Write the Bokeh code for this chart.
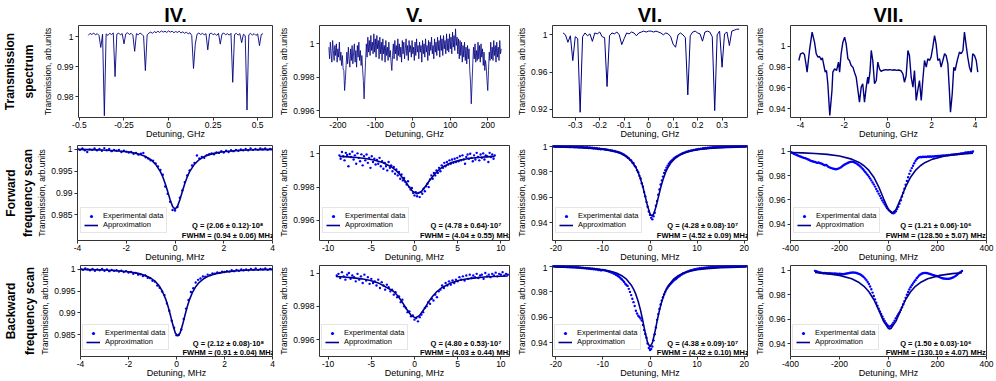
import numpy as np
from bokeh.plotting import figure
from bokeh.layouts import row, column
from bokeh.models import Range1d, FixedTicker, Label, Legend, LegendItem, Title
from bokeh.embed import file_html
from bokeh.resources import INLINE

FONT = "Liberation Sans"
INK = "#333333"
SPEC_COLOR = "#000080"
PT_COLOR = "#0000ff"
FIT_COLOR = "#00008b"

# ---------------- texts ----------------
col_titles = ["IV.", "V.", "VI.", "VII."]
row_labels = [["Transmission", "spectrum"], ["Forward", "frequency scan"], ["Backward", "frequency scan"]]
ylabel = "Transmission, arb.units"
xlabel_ghz = "Detuning, GHz"
xlabel_mhz = "Detuning, MHz"
legend_labels = ["Experimental data", "Approximation"]
q_fwd = ["Q = (2.06 ± 0.12)·10⁸", "Q = (4.78 ± 0.64)·10⁷", "Q = (4.28 ± 0.08)·10⁷", "Q = (1.21 ± 0.06)·10⁶"]
fwhm_fwd = ["FWHM = (0.94 ± 0.06) MHz", "FWHM = (4.04 ± 0.55) MHz", "FWHM = (4.52 ± 0.09) MHz", "FWHM = (128.50 ± 5.07) MHz"]
q_bwd = ["Q = (2.12 ± 0.08)·10⁸", "Q = (4.80 ± 0.53)·10⁷", "Q = (4.38 ± 0.09)·10⁷", "Q = (1.50 ± 0.03)·10⁶"]
fwhm_bwd = ["FWHM = (0.91 ± 0.04) MHz", "FWHM = (4.03 ± 0.44) MHz", "FWHM = (4.42 ± 0.10) MHz", "FWHM = (130.10 ± 4.07) MHz"]

# ---------------- ticks ----------------
spec_xticks = [[-0.5, -0.25, 0, 0.25, 0.5], [-200, -100, 0, 100, 200],
               [-0.3, -0.2, -0.1, 0, 0.1, 0.2, 0.3], [-4, -2, 0, 2, 4]]
spec_xtick_labels = [["-0.5", "-0.25", "0", "0.25", "0.5"], ["-200", "-100", "0", "100", "200"],
                     ["-0.3", "-0.2", "-0.1", "0", "0.1", "0.2", "0.3"], ["-4", "-2", "0", "2", "4"]]
spec_yticks = [[0.98, 0.99, 1.0], [0.996, 0.998, 1.0], [0.92, 0.96, 1.0], [0.94, 0.96, 0.98, 1.0]]
spec_ytick_labels = [["0.98", "0.99", "1"], ["0.996", "0.998", "1"], ["0.92", "0.96", "1"], ["0.94", "0.96", "0.98", "1"]]
scan_xticks = [[-4, -2, 0, 2, 4], [-10, -5, 0, 5, 10], [-20, -10, 0, 10, 20], [-400, -200, 0, 200, 400]]
scan_xtick_labels = [["-4", "-2", "0", "2", "4"], ["-10", "-5", "0", "5", "10"],
                     ["-20", "-10", "0", "10", "20"], ["-400", "-200", "0", "200", "400"]]
scan_yticks = [[0.985, 0.99, 0.995, 1.0], [0.996, 0.998, 1.0], [0.94, 0.96, 0.98, 1.0], [0.94, 0.96, 0.98, 1.0]]
scan_ytick_labels = [["0.985", "0.99", "0.995", "1"], ["0.996", "0.998", "1"],
                     ["0.94", "0.96", "0.98", "1"], ["0.94", "0.96", "0.98", "1"]]

# ---------------- axis ranges ----------------
spec_xr = [(-0.505, 0.583), (-249, 258), (-0.393, 0.404), (-4.46, 4.52)]
spec_yr = [(0.9731, 1.0037), (0.99558, 1.0011), (0.9114, 1.0100), (0.9317, 1.0198)]
fwd_xr = [(-4, 4), (-11, 11), (-20.7, 20.7), (-400, 400)]
fwd_yr = [(0.9791, 1.0009), (0.9948, 1.00049), (0.9263, 1.0005), (0.9267, 1.0048)]
bwd_xr = [(-4, 4), (-11, 11), (-20.7, 20.7), (-400, 400)]
bwd_yr = [(0.9800, 1.0009), (0.99499, 1.00045), (0.9294, 1.0004), (0.9294, 1.0040)]

# ---------------- row 1: transmission spectra ----------------
iv_spec_range = (-0.45, 0.53)
iv_spec_y = [1.0004, 1.0011, 1.0007, 1.0012, 1.0006, 1.0010, 1.0004, 0.9964, 1.0008, 0.9737,
             1.0009, 1.0004, 1.0011, 1.0007, 1.0012, 0.9867, 1.0008, 1.0012, 1.0006, 1.0010,
             0.9976, 1.0009, 1.0013, 1.0007, 1.0011, 1.0005, 0.9951, 1.0010, 1.0006, 1.0012,
             1.0008, 1.0002, 0.9887, 1.0006, 1.0012, 1.0015, 1.0011, 1.0017, 1.0013, 1.0018,
             1.0014, 1.0019, 1.0015, 1.0018, 1.0014, 1.0019, 1.0015, 1.0018, 1.0013, 1.0017,
             1.0014, 1.0018, 1.0012, 1.0016, 1.0011, 1.0015, 1.0009, 1.0013, 1.0004, 0.9894,
             0.9975, 1.0008, 1.0012, 1.0007, 1.0011, 1.0006, 1.0010, 0.9956, 1.0009, 1.0012,
             1.0006, 1.0010, 1.0004, 1.0011, 0.9975, 1.0009, 1.0012, 1.0006, 1.0010, 1.0005,
             1.0011, 0.9848, 1.0007, 1.0011, 1.0005, 1.0010, 0.9980, 1.0008, 1.0003, 0.9756,
             1.0006, 1.0011, 1.0005, 1.0010, 1.0004, 1.0009, 0.9970, 1.0007, 1.0010]

v_spec_range = (-224, 236)
v_spec_y = [0.9998, 0.9991, 1.0001, 0.9994, 0.9989, 1.0002, 0.9996, 0.9990, 0.9999, 0.9993,
            1.0000, 0.9989, 0.9997, 0.9992, 1.0001, 0.9990, 0.9995, 0.9987, 0.9993, 0.9985,
            0.9984, 0.9972, 0.9978, 0.9987, 0.9995, 0.9988, 0.9998, 0.9991, 0.9986, 0.9997,
            0.9990, 0.9999, 0.9988, 0.9995, 1.0000, 0.9989, 0.9996, 0.9986, 0.9999, 0.9992,
            1.0001, 0.9990, 0.9996, 0.9987, 0.9993, 0.9985, 0.9978, 0.9967, 0.9979, 0.9990,
            1.0000, 0.9992, 1.0004, 0.9995, 1.0002, 0.9993, 1.0005, 0.9996, 1.0001, 0.9994,
            1.0006, 0.9995, 1.0003, 0.9992, 1.0005, 0.9997, 1.0002, 0.9991, 1.0004, 0.9994,
            1.0001, 0.9990, 1.0003, 0.9994, 0.9999, 0.9989, 1.0002, 0.9993, 0.9998, 0.9990,
            1.0001, 0.9992, 0.9996, 0.9989, 0.9984, 0.9993, 1.0000, 0.9991, 1.0002, 0.9994,
            0.9999, 0.9990, 1.0003, 0.9993, 1.0000, 0.9992, 0.9998, 0.9989, 1.0002, 0.9994,
            1.0001, 0.9991, 0.9997, 1.0003, 0.9993, 0.9999, 0.9990, 1.0002, 0.9995, 0.9999,
            0.9992, 1.0002, 0.9994, 0.9998, 0.9990, 1.0001, 0.9993, 1.0003, 0.9995, 0.9999,
            0.9991, 1.0001, 0.9995, 0.9999, 0.9989, 1.0002, 0.9994, 1.0000, 0.9992, 1.0003,
            0.9995, 0.9999, 0.9990, 1.0002, 0.9993, 1.0001, 0.9996, 1.0004, 0.9994, 0.9999,
            0.9991, 1.0003, 0.9995, 1.0001, 0.9993, 1.0004, 0.9996, 1.0002, 0.9992, 1.0005,
            0.9996, 1.0003, 0.9993, 1.0005, 0.9997, 1.0002, 0.9994, 1.0006, 0.9996, 1.0003,
            0.9995, 1.0006, 0.9997, 1.0004, 0.9994, 1.0007, 0.9998, 1.0005, 0.9996, 1.0009,
            0.9999, 1.0004, 0.9994, 1.0003, 0.9991, 1.0002, 0.9993, 1.0001, 0.9989, 0.9999,
            0.9992, 1.0001, 0.9990, 0.9998, 0.9988, 0.9999, 0.9991, 0.9997, 0.9984, 0.9977,
            0.9964, 0.9976, 0.9988, 0.9998, 0.9991, 1.0000, 0.9989, 0.9996, 0.9990, 1.0001,
            0.9991, 0.9999, 0.9989, 1.0000, 0.9992, 0.9997, 0.9987, 0.9995, 0.9984, 0.9990,
            0.9986, 0.9978, 0.9972, 0.9984, 0.9995, 0.9990, 1.0001, 0.9991, 0.9998, 0.9990,
            1.0002, 0.9993, 0.9999, 0.9989, 1.0001, 0.9992, 0.9998, 0.9990, 1.0002, 0.9994,
            0.9997]

vi_spec_range = (-0.35, 0.37)
vi_spec_y = [1.002, 1.000, 0.992, 0.999, 0.9724, 0.998, 0.996, 0.917, 0.998, 1.002,
             0.999, 1.001, 0.993, 1.002, 1.001, 1.003, 0.998, 0.997, 0.9446, 0.999,
             1.002, 1.001, 1.003, 1.000, 0.9895, 0.996, 1.002, 1.001, 1.003, 1.002,
             0.999, 1.002, 1.003, 1.004, 1.003, 1.004, 1.004, 1.003, 1.004, 1.003,
             1.002, 1.000, 1.002, 1.001, 0.998, 0.990, 0.9867, 1.000, 1.002, 1.000,
             0.997, 0.9356, 0.999, 1.003, 1.004, 1.002, 1.001, 0.9932, 1.003, 1.004,
             1.003, 0.998, 0.9188, 1.000, 1.004, 0.9653, 1.001, 1.003, 0.9885, 1.004,
             1.005, 1.006, 1.006]

vii_spec_x = [-4.08, -4.00, -3.90, -3.82, -3.74, -3.70, -3.59, -3.47, -3.36, -3.28,
              -3.20, -3.13, -3.05, -3.00, -2.93, -2.87, -2.81, -2.75, -2.66, -2.56,
              -2.52, -2.44, -2.35, -2.26, -2.21, -2.14, -2.06, -1.98, -1.91, -1.83,
              -1.76, -1.68, -1.60, -1.53, -1.45, -1.37, -1.30, -1.22, -1.15, -1.07,
              -0.99, -0.92, -0.89, -0.82, -0.76, -0.69, -0.61, -0.53, -0.46, -0.38,
              -0.31, -0.20, -0.10, 0.00, 0.10, 0.20, 0.30, 0.40, 0.50, 0.60,
              0.69, 0.76, 0.84, 0.92, 0.99, 1.07, 1.15, 1.22, 1.30, 1.37,
              1.45, 1.53, 1.60, 1.68, 1.76, 1.83, 1.91, 1.98, 2.06, 2.14,
              2.21, 2.29, 2.37, 2.44, 2.52, 2.60, 2.67, 2.75, 2.82, 2.87,
              2.95, 3.02, 3.08, 3.18, 3.28, 3.36, 3.44, 3.51, 3.59, 3.66,
              3.74, 3.82, 3.89, 3.97, 4.05, 4.12]
vii_spec_y = [0.9863, 0.9927, 0.9936, 0.9920, 0.9815, 0.9751, 0.9959, 1.0134, 1.0038, 0.9927,
              0.9895, 0.9901, 0.9869, 0.9888, 0.9815, 0.9751, 0.9767, 0.9640, 0.9336, 0.9576,
              0.9751, 0.9783, 0.9767, 0.9847, 0.9751, 0.9927, 1.0038, 1.0086, 1.0022, 0.9879,
              0.9863, 0.9815, 0.9799, 0.9751, 0.9703, 0.9576, 0.9464, 0.9608, 0.9640, 0.9464,
              0.9608, 0.9703, 0.9640, 0.9751, 0.9959, 0.9863, 0.9640, 0.9671, 0.9847, 0.9780,
              0.9760, 0.9770, 0.9775, 0.9772, 0.9776, 0.9770, 0.9774, 0.9768, 0.9772, 0.9765,
              0.9735, 0.9655, 0.9719, 0.9959, 0.9911, 0.9703, 0.9608, 0.9767, 0.9480, 0.9576,
              0.9671, 0.9480, 0.9671, 0.9863, 0.9799, 0.9879, 0.9863, 0.9895, 0.9990, 1.0102,
              1.0022, 0.9863, 0.9879, 0.9799, 0.9863, 0.9927, 0.9911, 0.9831, 0.9576, 0.9368,
              0.9544, 0.9799, 0.9767, 0.9863, 0.9943, 0.9927, 0.9959, 1.0134, 1.0006, 0.9895,
              0.9799, 0.9751, 0.9927, 0.9911, 0.9863, 0.9751]

# ---------------- row 2/3: IV ----------------
iv_pts_range = (-4.0, 4.0)
iv_fwd_pts = [1.0001, 0.9999, 1.0002, 0.9998, 0.9994, 1.0000, 0.9999, 1.0002, 0.9998, 1.0001,
              0.9997, 1.0003, 0.9998, 1.0001, 0.9996, 0.9999, 0.9997, 0.9999, 0.9994, 0.9997,
              0.9995, 0.9993, 0.9994, 0.9990, 0.9992, 0.9988, 0.9990, 0.9992, 0.9982, 0.9979,
              0.9975, 0.9974, 0.9968, 0.9961, 0.9953, 0.9942, 0.9915, 0.9898, 0.9880, 0.9861,
              0.9860, 0.9868, 0.9889, 0.9906, 0.9925, 0.9940, 0.9952, 0.9963, 0.9969, 0.9986,
              0.9979, 0.9983, 0.9981, 0.9987, 0.9989, 0.9991, 0.9989, 0.9993, 0.9992, 0.9996,
              0.9993, 0.9997, 0.9994, 0.9998, 0.9996, 0.9999, 0.9997, 1.0000, 0.9998, 1.0001,
              0.9998, 1.0002, 0.9999, 1.0001, 0.9999, 1.0002, 1.0000, 1.0002, 0.9999, 1.0001,
              1.0000]
iv_fwd_fit_x = [-4.0, -3.5, -3.0, -2.6, -2.2, -1.9, -1.6, -1.4, -1.2, -1.0, -0.8, -0.6, -0.5, -0.4, -0.3,
                -0.2, -0.1, 0.0, 0.1, 0.2, 0.3, 0.4, 0.5, 0.6, 0.8, 1.0, 1.2, 1.4, 1.6, 1.9, 2.2, 2.6,
                3.0, 3.5, 4.0]
iv_fwd_fit_y = [1.00001, 0.99995, 0.99987, 0.99976, 0.99959, 0.9994, 0.99909, 0.99879, 0.99835, 0.99769,
                0.99663, 0.99491, 0.99368, 0.99214, 0.99032, 0.98843, 0.9869, 0.9863, 0.9869, 0.98843,
                0.99032, 0.99214, 0.99368, 0.99491, 0.99663, 0.99769, 0.99835, 0.99879, 0.99909, 0.9994,
                0.99959, 0.99976, 0.99987, 0.99995, 1.00001]
iv_bwd_pts = [1.0001, 0.9999, 1.0002, 1.0000, 0.9998, 1.0001, 0.9997, 1.0000, 0.9998, 1.0001,
              0.9997, 1.0000, 0.9996, 0.9999, 0.9997, 0.9998, 0.9995, 0.9997, 0.9994, 0.9996,
              0.9993, 0.9994, 0.9990, 0.9992, 0.9988, 0.9989, 0.9985, 0.9986, 0.9981, 0.9980,
              0.9974, 0.9972, 0.9963, 0.9958, 0.9949, 0.9941, 0.9922, 0.9905, 0.9882, 0.9866,
              0.9849, 0.9850, 0.9862, 0.9886, 0.9910, 0.9930, 0.9948, 0.9957, 0.9970, 0.9976,
              0.9979, 0.9984, 0.9983, 0.9988, 0.9987, 0.9991, 0.9990, 0.9993, 0.9992, 0.9995,
              0.9994, 0.9996, 0.9995, 0.9998, 0.9996, 0.9999, 0.9997, 1.0000, 0.9998, 1.0000,
              0.9998, 1.0001, 0.9999, 1.0002, 0.9999, 1.0001, 1.0000, 1.0002, 0.9999, 1.0001,
              1.0000]
iv_bwd_fit_x = [-4.0, -3.0, -2.5, -2.0, -1.6, -1.3, -1.1, -0.9, -0.75, -0.6, -0.45, -0.35, -0.25, -0.15,
                -0.05, 0.05, 0.15, 0.25, 0.35, 0.45, 0.55, 0.65, 0.8, 0.95, 1.15, 1.35, 1.65, 2.05, 2.55,
                3.05, 4.0]
iv_bwd_fit_y = [1.0, 0.99985, 0.99971, 0.99946, 0.9991, 0.99862, 0.9981, 0.99731, 0.99641, 0.9951,
                0.99318, 0.99146, 0.9894, 0.98721, 0.98541, 0.9847, 0.98541, 0.98721, 0.9894, 0.99146,
                0.99318, 0.99454, 0.99603, 0.99705, 0.99793, 0.99851, 0.99904, 0.99944, 0.9997, 0.99985,
                1.0]

# ---------------- row 2/3: V ----------------
v_fwd_range = (-8.7, 9.3)
v_fwd_pts = [0.99990, 0.99970, 1.00010, 0.99985, 0.99960, 1.00005, 0.99992, 0.99925, 0.99998, 0.99980,
             1.00012, 0.99965, 0.99990, 0.99940, 1.00002, 0.99975, 0.99955, 0.99996, 0.99930, 0.99985,
             0.99960, 0.99995, 0.99945, 0.99975, 0.99915, 0.99985, 0.99950, 0.99970, 0.99935, 0.99962,
             0.99940, 0.99975, 0.99925, 0.99955, 0.99910, 0.99945, 0.99925, 0.99900, 0.99950, 0.99915,
             0.99930, 0.99895, 0.99920, 0.99880, 0.99905, 0.99870, 0.99890, 0.99850, 0.99875, 0.99840,
             0.99855, 0.99830, 0.99815, 0.99835, 0.99800, 0.99785, 0.99795, 0.99765, 0.99750, 0.99770,
             0.99745, 0.99765, 0.99740, 0.99770, 0.99760, 0.99790, 0.99775, 0.99805, 0.99820, 0.99800,
             0.99845, 0.99870, 0.99850, 0.99885, 0.99870, 0.99900, 0.99885, 0.99915, 0.99895, 0.99930,
             0.99915, 0.99945, 0.99925, 0.99950, 0.99935, 0.99960, 0.99940, 0.99965, 0.99945, 0.99970,
             0.99950, 0.99975, 0.99955, 0.99985, 0.99960, 0.99990, 0.99965, 0.99940, 0.99980, 0.99995,
             0.99970, 1.00000, 0.99975, 0.99955, 0.99990, 0.99965, 1.00005, 0.99980, 0.99960, 0.99995,
             0.99975, 1.00002, 0.99965, 0.99990, 0.99985, 0.99950, 1.00005, 0.99980, 0.99995, 0.99970,
             0.99990]
v_fwd_fit_x = [-8.7, -7.7, -6.7, -5.7, -4.7, -3.7, -2.7, -2.2, -1.7, -1.2, -0.7, -0.2, 0.3, 0.8, 1.3,
               1.8, 2.3, 2.8, 3.3, 4.3, 5.3, 6.3, 7.3, 8.3, 9.3]
v_fwd_fit_y = [0.99984, 0.99981, 0.99977, 0.99971, 0.99962, 0.99947, 0.99922, 0.99902, 0.99876, 0.99844,
               0.99806, 0.99774, 0.9976, 0.99774, 0.99806, 0.99844, 0.99876, 0.99902, 0.99922, 0.99947,
               0.99962, 0.99971, 0.99977, 0.99981, 0.99984]
v_bwd_range = (-9.0, 10.8)
v_bwd_pts = [0.99985, 0.99995, 0.99970, 1.00005, 0.99980, 0.99960, 0.99990, 1.00000, 0.99965, 0.99985,
             0.99975, 0.99950, 0.99995, 0.99960, 0.99980, 0.99940, 0.99990, 0.99955, 0.99975, 0.99935,
             0.99965, 0.99940, 0.99950, 0.99925, 0.99960, 0.99910, 0.99945, 0.99925, 0.99900, 0.99930,
             0.99915, 0.99890, 0.99900, 0.99870, 0.99885, 0.99855, 0.99860, 0.99825, 0.99840, 0.99800,
             0.99790, 0.99765, 0.99770, 0.99740, 0.99745, 0.99720, 0.99730, 0.99710, 0.99735, 0.99750,
             0.99765, 0.99790, 0.99800, 0.99825, 0.99815, 0.99845, 0.99835, 0.99870, 0.99855, 0.99890,
             0.99900, 0.99925, 0.99910, 0.99940, 0.99925, 0.99950, 0.99930, 0.99955, 0.99940, 0.99960,
             0.99950, 0.99975, 0.99960, 0.99980, 0.99955, 0.99985, 0.99965, 0.99990, 0.99970, 0.99985,
             0.99975, 0.99995, 0.99970, 0.99985, 0.99990, 0.99965, 1.00000, 0.99980, 0.99990, 0.99975,
             0.99995, 0.99985, 1.00002, 0.99980, 0.99995, 0.99990, 1.00005, 0.99985, 0.99995, 0.99990]
v_bwd_fit_x = [-9.1, -8.1, -7.1, -6.1, -5.1, -4.1, -3.1, -2.4, -1.9, -1.4, -0.9, -0.4, 0.1, 0.6, 1.1,
               1.6, 2.1, 2.6, 3.1, 4.1, 5.1, 6.1, 7.1, 8.1, 9.1, 10.8]
v_bwd_fit_y = [0.99979, 0.99976, 0.99971, 0.99965, 0.99955, 0.99938, 0.9991, 0.99889, 0.9986, 0.99824,
               0.99782, 0.99746, 0.99731, 0.99746, 0.99782, 0.99824, 0.9986, 0.99889, 0.9991, 0.99938,
               0.99955, 0.99965, 0.99971, 0.99976, 0.99979, 0.99982]

# ---------------- row 2/3: VI ----------------
vi_pts_range = (-20.5, 20.5)
vi_fwd_pts = [0.9998, 1.0001, 0.9996, 1.0000, 0.9997, 1.0002, 0.9995, 0.9999, 0.9996, 1.0001,
              0.9994, 0.9998, 0.9995, 1.0000, 0.9993, 0.9997, 0.9994, 0.9999, 0.9992, 0.9996,
              0.9993, 0.9997, 0.9990, 0.9995, 0.9991, 0.9994, 0.9988, 0.9992, 0.9989, 0.9991,
              0.9986, 0.9989, 0.9985, 0.9988, 0.9982, 0.9985, 0.9981, 0.9983, 0.9978, 0.9981,
              0.9976, 0.9978,
              0.9977, 0.9975, 0.9976, 0.9972, 0.9973, 0.9969, 0.9969, 0.9965, 0.9966, 0.9961,
              0.9962, 0.9957, 0.9957, 0.9952, 0.9950, 0.9946, 0.9943, 0.9937, 0.9933, 0.9926,
              0.9920,
              0.9911, 0.9906, 0.9893, 0.9888, 0.9872, 0.9866, 0.9846, 0.9836, 0.9812, 0.9797,
              0.9768, 0.9747, 0.9710, 0.9683, 0.9641, 0.9608, 0.9563, 0.9527, 0.9490, 0.9463,
              0.9440, 0.9428, 0.9452, 0.9480, 0.9535, 0.9572, 0.9620, 0.9662, 0.9700, 0.9733,
              0.9762, 0.9790, 0.9812, 0.9832, 0.9848, 0.9863, 0.9874, 0.9885, 0.9893, 0.9902,
              0.9909, 0.9915,
              0.9921, 0.9926, 0.9932, 0.9936, 0.9941, 0.9944, 0.9949, 0.9951, 0.9956, 0.9957,
              0.9962, 0.9962, 0.9967, 0.9967, 0.9971, 0.9971, 0.9975, 0.9974, 0.9978, 0.9977,
              0.9981, 0.9979, 0.9984, 0.9982, 0.9986, 0.9984, 0.9988, 0.9986, 0.9990, 0.9987,
              0.9991, 0.9989, 0.9993, 0.9990, 0.9994, 0.9991, 0.9995, 0.9992, 0.9996, 0.9993,
              0.9997, 0.9994, 0.9998, 0.9995, 0.9998, 0.9996, 0.9999, 0.9996, 1.0000, 0.9997,
              1.0001, 0.9997, 1.0000, 0.9998, 1.0001, 0.9998, 1.0002, 0.9999, 1.0001, 0.9999]
vi_fwd_fit_x = [-20.5, -16, -12, -10, -8, -7, -6, -5, -4, -3, -2.5, -2, -1.5, -1, -0.5, 0, 0.4, 0.8,
                1.3, 1.8, 2.3, 2.8, 3.3, 3.8, 4.4, 5.4, 6.4, 7.4, 8.4, 10.4, 12.4, 16.4, 20.5]
vi_fwd_fit_y = [0.99937, 0.99898, 0.99825, 0.99754, 0.99632, 0.99535, 0.99396, 0.99188, 0.98862, 0.9833,
                0.97941, 0.97439, 0.96807, 0.96061, 0.95296, 0.94715, 0.9455, 0.94715, 0.95296, 0.96061,
                0.96807, 0.97439, 0.97941, 0.9833, 0.98681, 0.99075, 0.99323, 0.99486, 0.99597, 0.99735,
                0.99813, 0.99893, 0.99932]
vi_bwd_pts = [0.9999, 1.0001, 0.9997, 1.0000, 0.9996, 0.9999, 0.9995, 0.9998, 0.9994, 0.9997,
              0.9993, 0.9996, 0.9992, 0.9995, 0.9991, 0.9994, 0.9990, 0.9993, 0.9989, 0.9992,
              0.9988, 0.9990, 0.9986, 0.9989, 0.9985, 0.9987, 0.9983, 0.9985, 0.9981, 0.9983,
              0.9979, 0.9981, 0.9977, 0.9979, 0.9975, 0.9977, 0.9972, 0.9974, 0.9969, 0.9971,
              0.9966, 0.9967,
              0.9970, 0.9967, 0.9966, 0.9962, 0.9961, 0.9957, 0.9955, 0.9950, 0.9948, 0.9942,
              0.9939, 0.9932, 0.9928, 0.9920, 0.9914, 0.9905, 0.9897, 0.9886, 0.9876, 0.9862,
              0.9852,
              0.9845, 0.9822, 0.9798, 0.9773, 0.9745, 0.9718, 0.9688, 0.9651, 0.9630, 0.9612,
              0.9602, 0.9590, 0.9574, 0.9540, 0.9500, 0.9470, 0.9440, 0.9395, 0.9360, 0.9345,
              0.9352, 0.9372, 0.9420, 0.9468, 0.9520, 0.9580, 0.9625, 0.9665, 0.9700, 0.9730,
              0.9757, 0.9780, 0.9800, 0.9818, 0.9832, 0.9845, 0.9856, 0.9866, 0.9876, 0.9885,
              0.9892, 0.9899,
              0.9906, 0.9915, 0.9921, 0.9929, 0.9934, 0.9941, 0.9944, 0.9950, 0.9953, 0.9958,
              0.9960, 0.9965, 0.9966, 0.9970, 0.9971, 0.9975, 0.9975, 0.9979, 0.9978, 0.9982,
              0.9981, 0.9985, 0.9983, 0.9987, 0.9985, 0.9989, 0.9987, 0.9991, 0.9989, 0.9992,
              0.9990, 0.9994, 0.9991, 0.9995, 0.9992, 0.9996, 0.9993, 0.9997, 0.9994, 0.9997,
              0.9995, 0.9998, 0.9995, 0.9999, 0.9996, 0.9999, 0.9996, 1.0000, 0.9997, 1.0000,
              0.9997, 1.0001, 0.9998, 1.0001, 0.9998, 1.0001, 0.9998, 1.0002, 0.9999, 1.0001]
vi_bwd_fit_x = [-20.5, -15, -12, -10, -8, -7, -6, -5, -4, -3.5, -3, -2.5, -2, -1.5, -1, -0.5, 0,
                0.5, 1, 1.5, 2, 2.5, 3, 3.5, 4, 5, 6, 7, 8, 10, 12, 15, 20.5]
vi_bwd_fit_y = [0.99928, 0.99866, 0.99793, 0.99707, 0.99553, 0.99429, 0.99247, 0.98971, 0.98527, 0.98204,
                0.97784, 0.97237, 0.96537, 0.95687, 0.9477, 0.94007, 0.937, 0.94007, 0.9477, 0.95687,
                0.96537, 0.97237, 0.97784, 0.98204, 0.98527, 0.98971, 0.99247, 0.99429, 0.99553, 0.99707,
                0.99793, 0.99866, 0.99928]

# ---------------- row 2/3: VII ----------------
vii_fwd_range = (-400, 345)
vii_fwd_pts = [0.9996, 0.9990, 0.9985, 0.9979, 0.9975, 0.9970, 0.9966, 0.9961, 0.9958, 0.9954,
               0.9950, 0.9946, 0.9944, 0.9940, 0.9935, 0.9931, 0.9925, 0.9920, 0.9918, 0.9915,
               0.9913, 0.9908, 0.9905, 0.9908, 0.9903, 0.9900, 0.9896, 0.9890, 0.9886, 0.9888,
               0.9881, 0.9872, 0.9868, 0.9864, 0.9860, 0.9857, 0.9855, 0.9853, 0.9855, 0.9858,
               0.9862, 0.9868, 0.9875, 0.9883, 0.9890, 0.9896, 0.9901, 0.9906, 0.9910, 0.9913,
               0.9915, 0.9914, 0.9910, 0.9905, 0.9899, 0.9892, 0.9885, 0.9876, 0.9866, 0.9855,
               0.9843, 0.9830, 0.9818, 0.9805, 0.9792, 0.9777, 0.9761, 0.9744, 0.9728, 0.9710,
               0.9690, 0.9672, 0.9652, 0.9634, 0.9614, 0.9596, 0.9579, 0.9563, 0.9546, 0.9533,
               0.9521, 0.9510, 0.9501, 0.9493, 0.9490, 0.9496, 0.9508, 0.9525, 0.9545, 0.9570,
               0.9598, 0.9628, 0.9660, 0.9692, 0.9725, 0.9757, 0.9787, 0.9815, 0.9840, 0.9862,
               0.9882, 0.9902, 0.9920, 0.9935, 0.9946, 0.9951, 0.9953, 0.9952, 0.9955, 0.9953,
               0.9956, 0.9954, 0.9957, 0.9955, 0.9958, 0.9956, 0.9959, 0.9957, 0.9960, 0.9961,
               0.9962, 0.9963, 0.9962, 0.9965, 0.9964, 0.9966, 0.9965, 0.9968, 0.9967, 0.9970,
               0.9969, 0.9972, 0.9972, 0.9974, 0.9975, 0.9977, 0.9976, 0.9979, 0.9978, 0.9982,
               0.9983, 0.9985, 0.9987, 0.9990, 0.9988, 0.9993, 0.9991, 0.9996, 0.9994, 0.9999]
vii_fwd_fit_x = [-400, -350, -300, -250, -200, -150, -120, -100, -80, -60, -40, -20, 0, 15, 30, 50, 70,
                 90, 110, 130, 150, 180, 230, 280, 345]
vii_fwd_fit_y = [0.9991, 0.99877, 0.99826, 0.99747, 0.99615, 0.99359, 0.99088, 0.98817, 0.98429, 0.97871,
                 0.97087, 0.96097, 0.95194, 0.9493, 0.95194, 0.96097, 0.97087, 0.97871, 0.98429, 0.98817,
                 0.99088, 0.99359, 0.99612, 0.99747, 0.99844]
vii_bwd_range = (-300, 300)
vii_bwd_pts = [0.9996, 0.9993, 0.9990, 0.9986, 0.9983, 0.9980, 0.9979, 0.9977, 0.9978, 0.9976,
               0.9977, 0.9975, 0.9976, 0.9974, 0.9975, 0.9973, 0.9974, 0.9972, 0.9973, 0.9971,
               0.9972, 0.9970, 0.9971, 0.9969, 0.9970, 0.9972, 0.9974, 0.9977, 0.9979, 0.9981,
               0.9982, 0.9983, 0.9982, 0.9980, 0.9978, 0.9975, 0.9971, 0.9966, 0.9960, 0.9952,
               0.9943, 0.9932, 0.9920, 0.9905, 0.9888, 0.9868, 0.9845, 0.9818, 0.9790, 0.9762,
               0.9735, 0.9710, 0.9686, 0.9663, 0.9642, 0.9622, 0.9602, 0.9584, 0.9566, 0.9552,
               0.9542, 0.9538, 0.9544, 0.9556, 0.9572, 0.9588, 0.9607, 0.9625, 0.9641, 0.9656,
               0.9675, 0.9697, 0.9722, 0.9748, 0.9775, 0.9800, 0.9823, 0.9843, 0.9862, 0.9878,
               0.9893, 0.9907, 0.9920, 0.9935, 0.9947, 0.9958, 0.9966, 0.9972, 0.9976, 0.9979,
               0.9979, 0.9978, 0.9976, 0.9973, 0.9970, 0.9967, 0.9963, 0.9960, 0.9957, 0.9954,
               0.9951, 0.9947, 0.9943, 0.9939, 0.9936, 0.9933, 0.9932, 0.9931, 0.9930, 0.9931,
               0.9932, 0.9935, 0.9939, 0.9944, 0.9949, 0.9956, 0.9964, 0.9972, 0.9980, 0.9988,
               0.9995]
vii_bwd_fit_x = [-300, -250, -200, -150, -120, -100, -80, -60, -40, -20, 0, 5, 10, 30, 50, 70, 90, 110,
                 130, 160, 210, 260, 300]
vii_bwd_fit_y = [0.9982, 0.99735, 0.99589, 0.99308, 0.99002, 0.98692, 0.98248, 0.97615, 0.96764, 0.95823,
                 0.95228, 0.952, 0.95228, 0.95823, 0.96764, 0.97615, 0.98248, 0.98692, 0.99002, 0.99308,
                 0.99589, 0.99735, 0.99806]

# ---------------- layout (pixels; the page has no margin) ----------------
COL_W = [276, 237, 238, 243]
COL_BL = [76, 37, 38, 38]
COL_BR = [4, 4, 4, 8]
FRAME_W = [w - l - r for w, l, r in zip(COL_W, COL_BL, COL_BR)]
ROW_H = [143, 121, 116]
ROW_BT = [25, 2, 1]
ROW_BB = [26, 22, 22]
FRAME_H = [h - t - b for h, t, b in zip(ROW_H, ROW_BT, ROW_BB)]
ROWLAB_STANDOFF = [(7, 0), (0, 2), (2, 3)]
ANN_DX = [45, 45, 45, 51]
ANN_DY = [None, (15.6, 5.6), (13.5, 4.5)]
LEG_LOC = [None, (3, 7), (2, 6)]


def make_panel(r, c, xr, yr, xt, xtl, yt, ytl, xlab):
    p = figure(width=COL_W[c], height=ROW_H[r], x_range=Range1d(*xr), y_range=Range1d(*yr),
               output_backend="svg", toolbar_location=None,
               min_border_left=COL_BL[c], min_border_right=COL_BR[c],
               min_border_top=ROW_BT[r], min_border_bottom=ROW_BB[r])
    p.grid.visible = False
    p.outline_line_color = INK
    p.outline_line_width = 1
    p.background_fill_color = "white"
    p.border_fill_color = "white"
    for ax in (p.xaxis[0], p.yaxis[0]):
        ax.axis_line_color = None
        ax.major_tick_line_color = INK
        ax.major_tick_out = 3
        ax.major_tick_in = 0
        ax.minor_tick_line_color = None
        ax.major_label_text_font = FONT
        ax.major_label_text_font_size = "8.5px"
        ax.major_label_text_color = "black"
        ax.axis_label_text_font = FONT
        ax.axis_label_text_font_style = "normal"
        ax.axis_label_text_color = "black"
    p.xaxis.ticker = FixedTicker(ticks=xt)
    p.xaxis.major_label_overrides = {t: s for t, s in zip(xt, xtl)}
    p.yaxis.ticker = FixedTicker(ticks=yt)
    p.yaxis.major_label_overrides = {t: s for t, s in zip(yt, ytl)}
    p.xaxis.axis_label = xlab
    p.xaxis.axis_label_text_font_size = "9px"
    p.xaxis.axis_label_standoff = -2
    p.xaxis.major_label_standoff = 1
    p.yaxis.axis_label = ylabel
    p.yaxis.axis_label_text_font_size = "8.5px"
    p.yaxis.axis_label_standoff = 1
    p.yaxis.major_label_standoff = 2
    if c == 0:
        inner, outer = row_labels[r][1], row_labels[r][0]
        for txt, so in ((inner, ROWLAB_STANDOFF[r][0]), (outer, ROWLAB_STANDOFF[r][1])):
            p.add_layout(Title(text=txt, align="center", text_font=FONT, text_font_style="bold",
                               text_font_size="12px", text_color="black", standoff=so, offset=0), "left")
    return p


def add_scan(p, r, c, xr, yr, px, py, fx, fy, qtxt, ftxt):
    r_pts = p.scatter(px, py, size=2.4, marker="circle", fill_color=PT_COLOR, line_color=None)
    r_fit = p.line(fx, fy, line_color=FIT_COLOR, line_width=1.6)
    leg = Legend(items=[LegendItem(label=legend_labels[0], renderers=[r_pts]),
                        LegendItem(label=legend_labels[1], renderers=[r_fit])],
                 location=LEG_LOC[r], margin=0, padding=3, spacing=0,
                 label_text_font=FONT, label_text_font_size="7.5px", label_text_color="black",
                 label_height=8, glyph_height=8, glyph_width=14, label_standoff=5,
                 border_line_color="#cccccc", border_line_width=1,
                 background_fill_color="white", background_fill_alpha=0.85)
    p.add_layout(leg)
    xa = xr[0] + (xr[1] - xr[0]) * (1 - ANN_DX[c] / FRAME_W[c])
    for txt, dy in zip((qtxt, ftxt), ANN_DY[r]):
        ya = yr[0] + (yr[1] - yr[0]) * dy / FRAME_H[r]
        p.add_layout(Label(x=xa, y=ya, text=txt, text_align="center", text_baseline="alphabetic",
                           text_font=FONT, text_font_style="bold", text_font_size="7.5px",
                           text_color="black"))


# row 1
spec_x = [np.linspace(iv_spec_range[0], iv_spec_range[1], len(iv_spec_y)),
          np.linspace(v_spec_range[0], v_spec_range[1], len(v_spec_y)),
          np.linspace(vi_spec_range[0], vi_spec_range[1], len(vi_spec_y)),
          np.array(vii_spec_x)]
spec_y = [iv_spec_y, v_spec_y, vi_spec_y, vii_spec_y]
spec_w = [0.9, 0.8, 1.0, 1.4]
row1 = []
for c in range(4):
    p = make_panel(0, c, spec_xr[c], spec_yr[c], spec_xticks[c], spec_xtick_labels[c],
                   spec_yticks[c], spec_ytick_labels[c], xlabel_ghz)
    p.line(spec_x[c], spec_y[c], line_color=SPEC_COLOR, line_width=spec_w[c])
    xmin, xmax = spec_xr[c]
    zero_off = (0 - xmin) / (xmax - xmin) * FRAME_W[c] - FRAME_W[c] / 2
    p.title = Title(text=col_titles[c], align="center", offset=zero_off, standoff=0,
                    text_font=FONT, text_font_style="bold", text_font_size="20px", text_color="black")
    row1.append(p)

# rows 2 and 3
fwd_pts_x = [np.linspace(iv_pts_range[0], iv_pts_range[1], len(iv_fwd_pts)),
             np.linspace(v_fwd_range[0], v_fwd_range[1], len(v_fwd_pts)),
             np.linspace(vi_pts_range[0], vi_pts_range[1], len(vi_fwd_pts)),
             np.linspace(vii_fwd_range[0], vii_fwd_range[1], len(vii_fwd_pts))]
fwd_pts_y = [iv_fwd_pts, v_fwd_pts, vi_fwd_pts, vii_fwd_pts]
fwd_fit = [(iv_fwd_fit_x, iv_fwd_fit_y), (v_fwd_fit_x, v_fwd_fit_y),
           (vi_fwd_fit_x, vi_fwd_fit_y), (vii_fwd_fit_x, vii_fwd_fit_y)]
bwd_pts_x = [np.linspace(iv_pts_range[0], iv_pts_range[1], len(iv_bwd_pts)),
             np.linspace(v_bwd_range[0], v_bwd_range[1], len(v_bwd_pts)),
             np.linspace(vi_pts_range[0], vi_pts_range[1], len(vi_bwd_pts)),
             np.linspace(vii_bwd_range[0], vii_bwd_range[1], len(vii_bwd_pts))]
bwd_pts_y = [iv_bwd_pts, v_bwd_pts, vi_bwd_pts, vii_bwd_pts]
bwd_fit = [(iv_bwd_fit_x, iv_bwd_fit_y), (v_bwd_fit_x, v_bwd_fit_y),
           (vi_bwd_fit_x, vi_bwd_fit_y), (vii_bwd_fit_x, vii_bwd_fit_y)]

row2, row3 = [], []
for c in range(4):
    p = make_panel(1, c, fwd_xr[c], fwd_yr[c], scan_xticks[c], scan_xtick_labels[c],
                   scan_yticks[c], scan_ytick_labels[c], xlabel_mhz)
    add_scan(p, 1, c, fwd_xr[c], fwd_yr[c], fwd_pts_x[c], fwd_pts_y[c],
             fwd_fit[c][0], fwd_fit[c][1], q_fwd[c], fwhm_fwd[c])
    row2.append(p)
    p = make_panel(2, c, bwd_xr[c], bwd_yr[c], scan_xticks[c], scan_xtick_labels[c],
                   scan_yticks[c], scan_ytick_labels[c], xlabel_mhz)
    add_scan(p, 2, c, bwd_xr[c], bwd_yr[c], bwd_pts_x[c], bwd_pts_y[c],
             bwd_fit[c][0], bwd_fit[c][1], q_bwd[c], fwhm_bwd[c])
    row3.append(p)

layout = column(row(*row1), row(*row2), row(*row3))

open("out.html", "w").write(file_html(layout, INLINE))
